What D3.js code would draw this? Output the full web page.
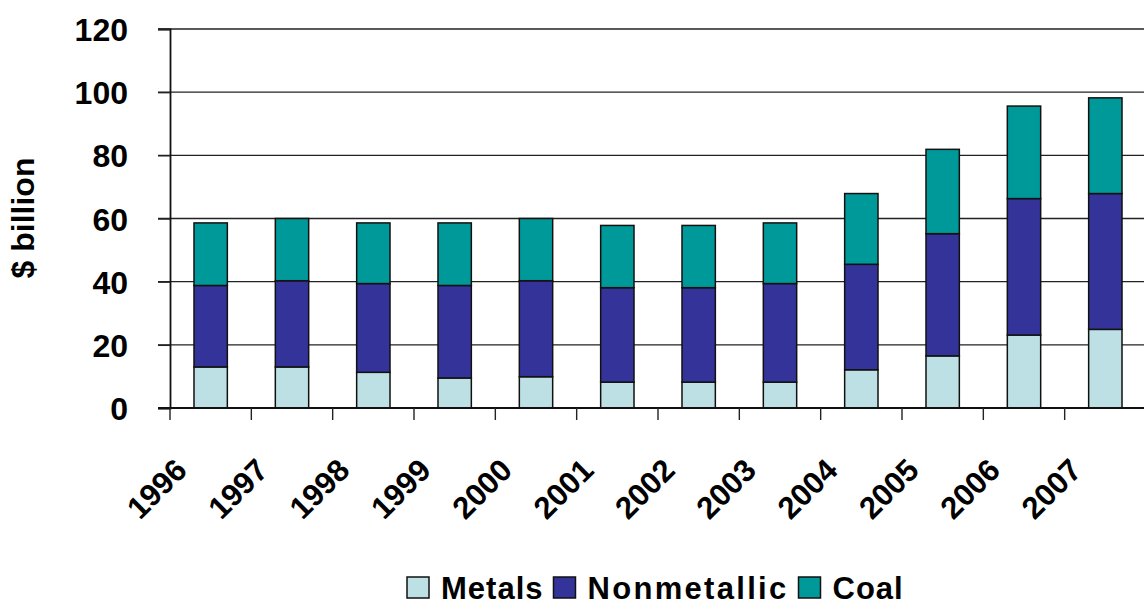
<!DOCTYPE html>
<html>
<head>
<meta charset="utf-8">
<script src="https://cdn.jsdelivr.net/npm/d3@7"></script>
<style>
  html, body { margin: 0; padding: 0; background: #fff; }
  svg { display: block; }
  text { font-family: "Liberation Sans", Arial, sans-serif; font-weight: bold; fill: #000; }
</style>
</head>
<body>
<svg id="chart" width="1144" height="607"></svg>
<script>
const years = ["1996","1997","1998","1999","2000","2001","2002","2003","2004","2005","2006","2007"];
const metals      = [13.0, 13.0, 11.3, 9.5, 9.9, 8.2, 8.2, 8.2, 12.1, 16.5, 23.1, 24.9];
const nonmetallic = [25.8, 27.3, 28.1, 29.3, 30.4, 29.9, 29.9, 31.2, 33.4, 38.7, 43.2, 43.0];
const coal        = [19.8, 19.7, 19.2, 19.8, 19.7, 19.7, 19.7, 19.2, 22.4, 26.7, 29.3, 30.3];
const seriesNames = ["Metals", "Nonmetallic", "Coal"];
const seriesColors = ["#BCE0E3", "#333399", "#009999"];
const yTicks = [0, 20, 40, 60, 80, 100, 120];
const yTitle = "$ billion";

const svg = d3.select("#chart");
const W = 1144;

const x = d3.scaleBand().domain(years).range([170, 1146]).padding(0);
const y = d3.scaleLinear().domain([0, 120]).range([408, 29]);

const rows = years.map((yr, i) => ({ year: yr, Metals: metals[i], Nonmetallic: nonmetallic[i], Coal: coal[i] }));
const stack = d3.stack().keys(seriesNames)(rows);

// gridlines
svg.append("g").selectAll("line").data(yTicks.filter(t => t > 0)).join("line")
  .attr("x1", 158).attr("x2", W)
  .attr("y1", d => y(d)).attr("y2", d => y(d))
  .attr("stroke", "#222").attr("stroke-width", 1.4);

// bars
const barW = x.step() * 0.41;
svg.append("g").selectAll("g").data(stack).join("g")
  .attr("fill", (d, i) => seriesColors[i])
  .selectAll("rect").data(d => d).join("rect")
  .attr("x", d => x(d.data.year) + (x.step() - barW) / 2)
  .attr("width", barW)
  .attr("y", d => y(d[1]))
  .attr("height", d => y(d[0]) - y(d[1]))
  .attr("stroke", "#111").attr("stroke-width", 1.5);

// y axis
const yAxis = d3.axisLeft(y).tickValues(yTicks).tickSize(12).tickPadding(30);
const gy = svg.append("g").attr("transform", "translate(170,0)").call(yAxis);
gy.select(".domain").attr("stroke", "#111").attr("stroke-width", 1.8);
gy.selectAll(".tick line").attr("stroke", "#222").attr("stroke-width", 1.4);
gy.selectAll(".tick text").style("font-size", "32px").style("font-weight", "bold")
  .style("font-family", '"Liberation Sans", Arial, sans-serif').attr("fill", "#000").attr("dy", "0.36em");

// x axis baseline and ticks at category boundaries
svg.append("line").attr("x1", 158).attr("x2", W).attr("y1", y(0)).attr("y2", y(0))
  .attr("stroke", "#111").attr("stroke-width", 1.8);
svg.append("g").selectAll("line").data(years).join("line")
  .attr("x1", d => x(d)).attr("x2", d => x(d))
  .attr("y1", y(0)).attr("y2", y(0) + 12)
  .attr("stroke", "#222").attr("stroke-width", 1.4);

// x labels rotated
svg.append("g").selectAll("text").data(years).join("text")
  .attr("transform", d => `translate(${x(d) + x.step() / 2 - 22},472) rotate(-45)`)
  .attr("text-anchor", "end")
  .style("font-size", "31px")
  .text(d => d);

// y title
svg.append("text")
  .attr("transform", "translate(34,218) rotate(-90)")
  .attr("text-anchor", "middle")
  .style("font-size", "32px")
  .text(yTitle);

// legend
const leg = svg.append("g");
const spacings = [1, 2.3, 1];
let lx = 407;
seriesNames.forEach((name, i) => {
  leg.append("rect").attr("x", lx).attr("y", 577).attr("width", 22).attr("height", 21)
    .attr("fill", seriesColors[i]).attr("stroke", "#111").attr("stroke-width", 1.5);
  const t = leg.append("text").attr("x", lx + 34).attr("y", 599)
    .style("font-size", "31px").style("letter-spacing", spacings[i] + "px").text(name);
  const w = t.node().getComputedTextLength();
  lx = lx + 34 + w + 10;
});
</script>
</body>
</html>
